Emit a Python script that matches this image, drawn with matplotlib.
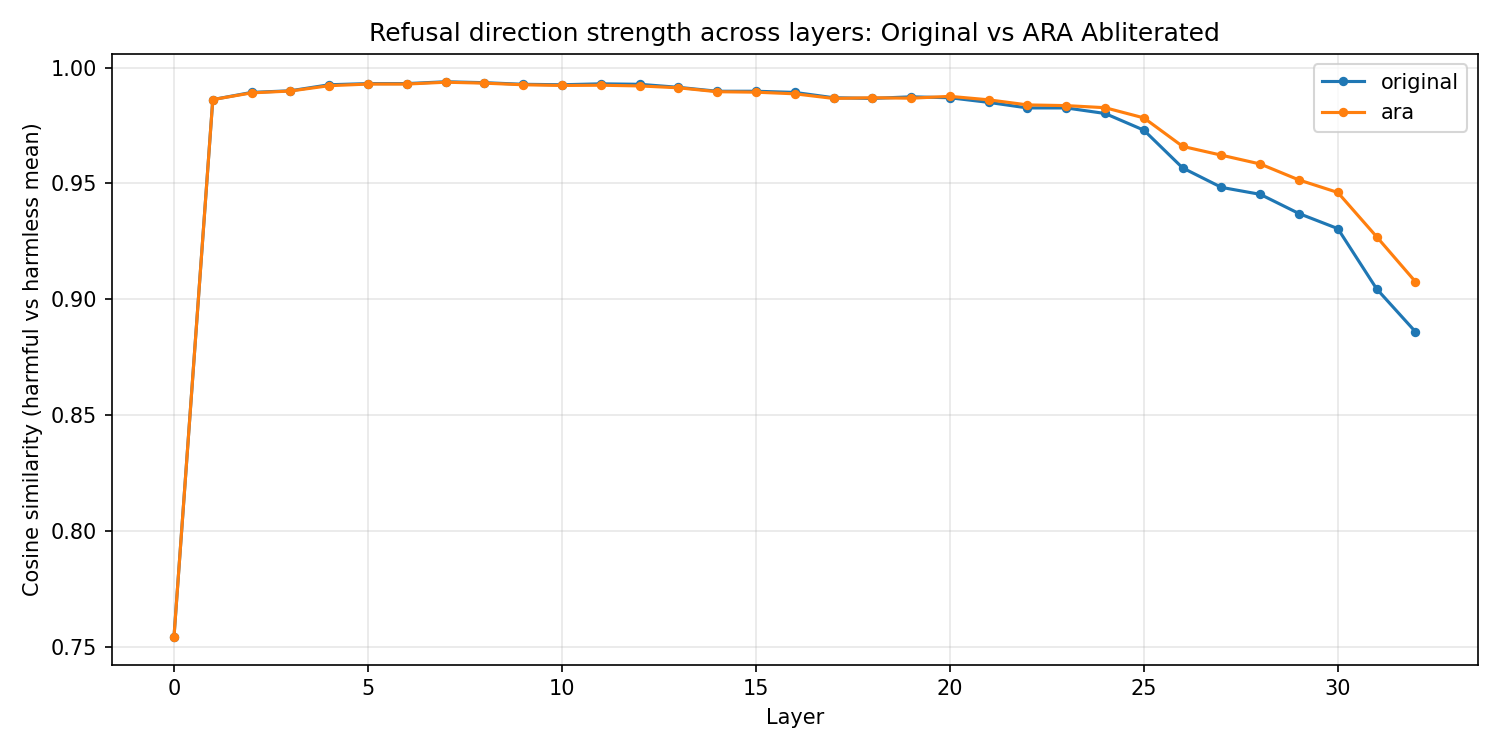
import matplotlib
matplotlib.use("Agg")
import matplotlib.pyplot as plt

# Cosine similarity per layer
layers = list(range(33))
original = [0.7543, 0.9862, 0.9893, 0.9900, 0.9926, 0.9931, 0.9931, 0.9939, 0.9935,
            0.9928, 0.9926, 0.9930, 0.9928, 0.9915, 0.9898, 0.9898, 0.9893, 0.9870,
            0.9867, 0.9874, 0.9870, 0.9850, 0.9826, 0.9826, 0.9802, 0.9730, 0.9567,
            0.9483, 0.9453, 0.9370, 0.9305, 0.9045, 0.8860]
ara = [0.7543, 0.9862, 0.9891, 0.9899, 0.9922, 0.9929, 0.9929, 0.9937, 0.9933,
       0.9926, 0.9923, 0.9924, 0.9921, 0.9913, 0.9896, 0.9894, 0.9887, 0.9867,
       0.9870, 0.9868, 0.9876, 0.9861, 0.9839, 0.9836, 0.9827, 0.9783, 0.9660,
       0.9622, 0.9584, 0.9515, 0.9461, 0.9270, 0.9076]

fig, ax = plt.subplots(figsize=(10, 5), dpi=150)
ax.plot(layers, original, marker='o', markersize=3.5, label='original')
ax.plot(layers, ara, marker='o', markersize=3.5, label='ara')
ax.set_xlabel('Layer')
ax.set_ylabel('Cosine similarity (harmful vs harmless mean)')
ax.set_title('Refusal direction strength across layers: Original vs ARA Abliterated')
ax.grid(True, alpha=0.3)
ax.legend(loc='upper right')

plt.tight_layout()
fig.savefig('out.png')
plt.close(fig)
